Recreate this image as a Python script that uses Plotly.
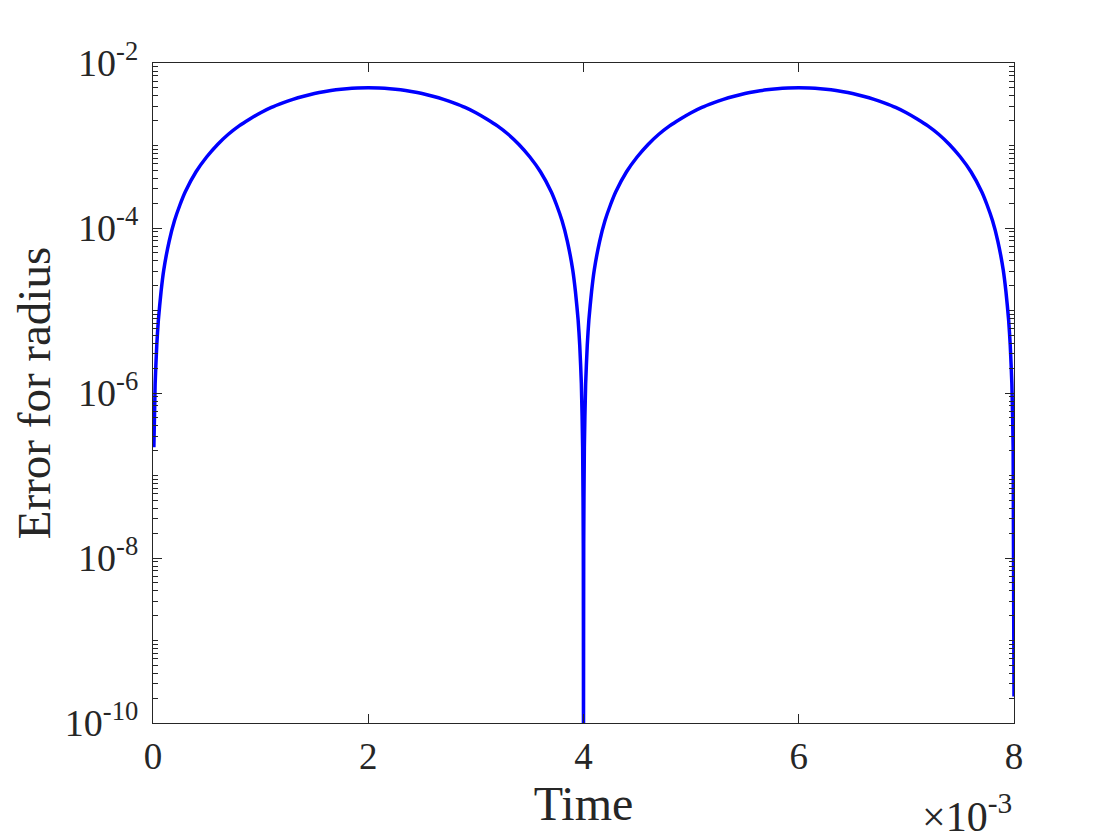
import plotly.graph_objects as go

# Time in units of 1e-3 s, error for radius
time_e3 = [0.008, 0.02, 0.035, 0.05, 0.075, 0.1, 0.15, 0.2, 0.25, 0.3, 0.4,
           0.5, 0.6, 0.7, 0.8, 0.9, 1.0, 1.1, 1.2, 1.3, 1.4, 1.5, 1.6, 1.7,
           1.8, 1.9, 2.0, 2.1, 2.2, 2.3, 2.4, 2.5, 2.6, 2.7, 2.8, 2.9, 3.0,
           3.1, 3.2, 3.3, 3.4, 3.5, 3.6, 3.7, 3.75, 3.8, 3.85, 3.9, 3.925,
           3.95, 3.965, 3.98, 3.992, 3.998, 4.0,
           4.002, 4.008, 4.02, 4.035, 4.05, 4.075, 4.1, 4.15, 4.2, 4.25, 4.3,
           4.4, 4.5, 4.6, 4.7, 4.8, 4.9, 5.0, 5.1, 5.2, 5.3, 5.4, 5.5, 5.6,
           5.7, 5.8, 5.9, 6.0, 6.1, 6.2, 6.3, 6.4, 6.5, 6.6, 6.7, 6.8, 6.9,
           7.0, 7.1, 7.2, 7.3, 7.4, 7.5, 7.6, 7.7, 7.75, 7.8, 7.85, 7.9,
           7.925, 7.95, 7.965, 7.98, 7.992, 8.0]
error_radius = [2.2e-7, 1.3e-6, 3.8e-6, 7.7e-6, 1.7e-5, 3.1e-5, 6.9e-5,
                1.23e-4, 1.9e-4, 2.75e-4, 4.8e-4, 7.3e-4, 1.03e-3, 1.37e-3,
                1.73e-3, 2.1e-3, 2.5e-3, 2.9e-3, 3.27e-3, 3.63e-3, 3.96e-3,
                4.27e-3, 4.52e-3, 4.73e-3, 4.88e-3, 4.97e-3, 5.0e-3,
                4.97e-3, 4.88e-3, 4.73e-3, 4.52e-3, 4.27e-3, 3.96e-3,
                3.63e-3, 3.27e-3, 2.9e-3, 2.5e-3, 2.1e-3, 1.73e-3, 1.37e-3,
                1.03e-3, 7.3e-4, 4.8e-4, 2.75e-4, 1.9e-4, 1.23e-4, 6.9e-5,
                3.1e-5, 1.7e-5, 7.7e-6, 3.8e-6, 1.3e-6, 2.2e-7, 1.5e-8, 5e-11,
                1.5e-8, 2.2e-7, 1.3e-6, 3.8e-6, 7.7e-6, 1.7e-5, 3.1e-5,
                6.9e-5, 1.23e-4, 1.9e-4, 2.75e-4, 4.8e-4, 7.3e-4, 1.03e-3,
                1.37e-3, 1.73e-3, 2.1e-3, 2.5e-3, 2.9e-3, 3.27e-3, 3.63e-3,
                3.96e-3, 4.27e-3, 4.52e-3, 4.73e-3, 4.88e-3, 4.97e-3, 5.0e-3,
                4.97e-3, 4.88e-3, 4.73e-3, 4.52e-3, 4.27e-3, 3.96e-3,
                3.63e-3, 3.27e-3, 2.9e-3, 2.5e-3, 2.1e-3, 1.73e-3, 1.37e-3,
                1.03e-3, 7.3e-4, 4.8e-4, 2.75e-4, 1.9e-4, 1.23e-4, 6.9e-5,
                3.1e-5, 1.7e-5, 7.7e-6, 3.8e-6, 1.3e-6, 2.2e-7, 2.1e-10]

x_tickvals = [0, 2, 4, 6, 8]
x_ticktext = ["0", "2", "4", "6", "8"]
y_exponents = [-10, -8, -6, -4, -2]

FONT = "Liberation Serif, Times New Roman, serif"
AX = "#262626"

y_tickvals = [10.0 ** e for e in y_exponents]
y_ticktext = ["10<sup>%d</sup>" % e for e in y_exponents]
minor_vals = [m * 10.0 ** e for e in range(-10, -2) for m in range(1, 10)
              if not (m == 1 and e % 2 == 0)]

fig = go.Figure()
fig.add_trace(go.Scatter(x=time_e3, y=error_radius, mode="lines",
                         line=dict(color="#0000FF", width=3.5, shape="spline",
                                   smoothing=0.6),
                         showlegend=False, hoverinfo="skip"))

fig.update_layout(
    width=1120, height=840,
    margin=dict(l=145, r=114, t=55, b=125, autoexpand=False),
    paper_bgcolor="white", plot_bgcolor="white",
    font=dict(family=FONT, size=36, color=AX),
)
fig.update_xaxes(
    range=[0, 8], tickmode="array", tickvals=x_tickvals, ticktext=x_ticktext,
    ticks="inside", ticklen=9, tickwidth=1.3, tickcolor=AX,
    showline=True, linecolor=AX, linewidth=1.3, mirror="ticks",
    showgrid=False, zeroline=False,
    tickfont=dict(family=FONT, size=37, color=AX),
    title=dict(text="Time", font=dict(family=FONT, size=48, color=AX), standoff=2),
)
fig.update_yaxes(
    type="log", range=[-10, -2], tickmode="array", tickvals=y_tickvals,
    ticktext=y_ticktext,
    ticks="inside", ticklen=9, tickwidth=1.3, tickcolor=AX,
    showline=True, linecolor=AX, linewidth=1.3, mirror="ticks",
    showgrid=False, zeroline=False,
    minor=dict(ticks="inside", ticklen=5, tickwidth=1, tickcolor=AX,
               tickmode="array", tickvals=minor_vals, showgrid=False),
    tickfont=dict(family=FONT, size=38, color=AX),
    ticklabelstandoff=6,
    title=dict(text="Error for radius", font=dict(family=FONT, size=47, color=AX),
               standoff=14),
)
fig.add_annotation(xref="paper", yref="paper", x=1.0, y=-0.18,
                   xanchor="right", yanchor="bottom", showarrow=False,
                   text="×10<sup>-3</sup>",
                   font=dict(family=FONT, size=42, color=AX))

fig.write_html("out.html")
